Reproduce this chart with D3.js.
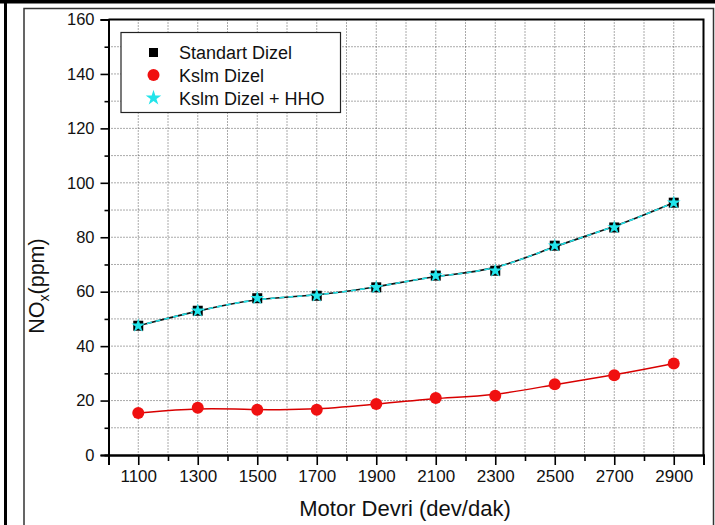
<!DOCTYPE html>
<html>
<head>
<meta charset="utf-8">
<script src="https://cdn.jsdelivr.net/npm/d3@7"></script>
<style>
  html, body { margin: 0; padding: 0; background: #fff; }
  svg { display: block; font-family: Arial, "Liberation Sans", sans-serif; }
</style>
</head>
<body>
<svg id="chart" width="715" height="525"></svg>
<script>
// Engine speed (rpm) and NOx emissions (ppm) for each fuel
const rpm = [1100, 1300, 1500, 1700, 1900, 2100, 2300, 2500, 2700, 2900];
const standartDizel = [47.5, 53.0, 57.6, 58.5, 61.6, 65.9, 67.7, 76.9, 83.6, 92.7];
const kslmDizel = [15.4, 17.4, 16.6, 16.6, 18.7, 20.9, 21.8, 26.0, 29.3, 33.6];
const kslmDizelHHO = [47.5, 53.0, 57.6, 58.5, 61.6, 65.9, 67.7, 76.9, 83.6, 92.7];

const xTicks = [1100, 1300, 1500, 1700, 1900, 2100, 2300, 2500, 2700, 2900];
const xMinorTicks = [1200, 1400, 1600, 1800, 2000, 2200, 2400, 2600, 2800];
const yTicks = [0, 20, 40, 60, 80, 100, 120, 140, 160];
const yMinorTicks = [10, 30, 50, 70, 90, 110, 130, 150];

const seriesNames = ["Standart Dizel", "Kslm Dizel", "Kslm Dizel + HHO"];

const svg = d3.select("#chart");
const W = 715, H = 525;
const plot = { left: 108.5, right: 703.5, top: 19.5, bottom: 455 };

// outer page frame
svg.append("rect").attr("x", 0).attr("y", 0).attr("width", W).attr("height", 3.5).attr("fill", "#000");
svg.append("rect").attr("x", 4).attr("y", 0).attr("width", 3).attr("height", H).attr("fill", "#000");
svg.append("path")
  .attr("d", `M24,${H} V8.5 H713.5 V${H}`)
  .attr("fill", "none").attr("stroke", "#333").attr("stroke-width", 1.5);

const x = d3.scaleLinear().domain([1000, 3000]).range([plot.left, plot.right]);
const y = d3.scaleLinear().domain([0, 160]).range([plot.bottom, plot.top]);

// dotted grid
const grid = svg.append("g").attr("class", "grid");
grid.selectAll("line.gx")
  .data(xTicks.concat(xMinorTicks))
  .join("line")
  .attr("x1", d => x(d)).attr("x2", d => x(d))
  .attr("y1", plot.top).attr("y2", plot.bottom)
  .attr("stroke", "#555").attr("stroke-width", 1).attr("stroke-dasharray", "1,2");
grid.selectAll("line.gy")
  .data(d3.range(10, 160, 10))
  .join("line")
  .attr("x1", plot.left).attr("x2", plot.right)
  .attr("y1", d => y(d)).attr("y2", d => y(d))
  .attr("stroke", "#555").attr("stroke-width", 1).attr("stroke-dasharray", "1,2");

// plot frame (top and right)
svg.append("path")
  .attr("d", `M${plot.left},${plot.top} H${plot.right} V${plot.bottom}`)
  .attr("fill", "none").attr("stroke", "#000").attr("stroke-width", 2);

// axes
const xAxis = svg.append("g").attr("transform", `translate(0,${plot.bottom})`)
  .call(d3.axisBottom(x).tickValues(xTicks).tickSize(10).tickPadding(5).tickFormat(d3.format("d")));
const xMinor = svg.append("g").attr("transform", `translate(0,${plot.bottom})`)
  .call(d3.axisBottom(x).tickValues(xMinorTicks).tickSize(6).tickFormat(""));
const yAxis = svg.append("g").attr("transform", `translate(${plot.left},0)`)
  .call(d3.axisLeft(y).tickValues(yTicks).tickSize(8).tickPadding(6).tickFormat(d3.format("d")));
const yMinor = svg.append("g").attr("transform", `translate(${plot.left},0)`)
  .call(d3.axisLeft(y).tickValues(yMinorTicks).tickSize(4).tickFormat(""));

[xAxis, xMinor, yAxis, yMinor].forEach(g => {
  g.select(".domain").attr("stroke", "#000").attr("stroke-width", 2);
  g.selectAll(".tick line").attr("stroke", "#000").attr("stroke-width", 1.6);
  g.selectAll(".tick text").attr("fill", "#111").style("font-family", "Arial, 'Liberation Sans', sans-serif");
});
xAxis.selectAll(".tick text").style("font-size", "17px");
yAxis.selectAll(".tick text").style("font-size", "16.5px");

// axis titles
svg.append("text")
  .attr("x", 405).attr("y", 516)
  .attr("text-anchor", "middle")
  .style("font-size", "22px").attr("fill", "#111")
  .text("Motor Devri (dev/dak)");

const yTitle = svg.append("text")
  .attr("transform", "translate(44,286) rotate(-90)")
  .attr("text-anchor", "middle")
  .style("font-size", "21.5px").attr("fill", "#111");
yTitle.append("tspan").text("NO");
yTitle.append("tspan").attr("dy", 5).style("font-size", "14px").text("x");
yTitle.append("tspan").attr("dy", -5).text("(ppm)");

// series
const lineGen = d3.line().x(d => x(d[0])).y(d => y(d[1])).curve(d3.curveBasis);
const zip = vals => rpm.map((r, i) => [r, vals[i]]);

const colRed = "#f01010", colCyan = "#22e4ea";

svg.append("path").datum(zip(kslmDizel)).attr("d", lineGen)
  .attr("fill", "none").attr("stroke", "#d80000").attr("stroke-width", 1.5);
svg.append("path").datum(zip(standartDizel)).attr("d", lineGen)
  .attr("fill", "none").attr("stroke", "#111").attr("stroke-width", 1.6);
svg.append("path").datum(zip(kslmDizelHHO)).attr("d", lineGen)
  .attr("fill", "none").attr("stroke", colCyan).attr("stroke-width", 1.6).attr("stroke-dasharray", "5,4");

const square = d3.symbol().type(d3.symbolSquare).size(100);
const star = d3.symbol().type(d3.symbolStar).size(60);
const starLegend = d3.symbol().type(d3.symbolStar).size(75);

svg.append("g").selectAll("path")
  .data(zip(standartDizel)).join("path")
  .attr("transform", d => `translate(${x(d[0])},${y(d[1])})`)
  .attr("d", square).attr("fill", "#000");
svg.append("g").selectAll("circle")
  .data(zip(kslmDizel)).join("circle")
  .attr("cx", d => x(d[0])).attr("cy", d => y(d[1])).attr("r", 6)
  .attr("fill", colRed);
svg.append("g").selectAll("path")
  .data(zip(kslmDizelHHO)).join("path")
  .attr("transform", d => `translate(${x(d[0])},${y(d[1])})`)
  .attr("d", star).attr("fill", colCyan);

// legend
const leg = svg.append("g");
leg.append("rect").attr("x", 121).attr("y", 32.5).attr("width", 219.5).attr("height", 80)
  .attr("fill", "#fff").attr("stroke", "#222").attr("stroke-width", 1.2);
const legY = [52.5, 75, 98];
leg.append("path").attr("transform", `translate(153.5,${legY[0]})`)
  .attr("d", d3.symbol().type(d3.symbolSquare).size(81)).attr("fill", "#000");
leg.append("circle").attr("cx", 153.5).attr("cy", legY[1]).attr("r", 6).attr("fill", colRed);
leg.append("path").attr("transform", `translate(153.5,${legY[2]})`).attr("d", starLegend).attr("fill", colCyan);
leg.selectAll("text.lt").data(seriesNames).join("text")
  .attr("x", 179).attr("y", (d, i) => legY[i] + 6.5)
  .style("font-size", "18px").attr("fill", "#111")
  .text(d => d);
</script>
</body>
</html>
